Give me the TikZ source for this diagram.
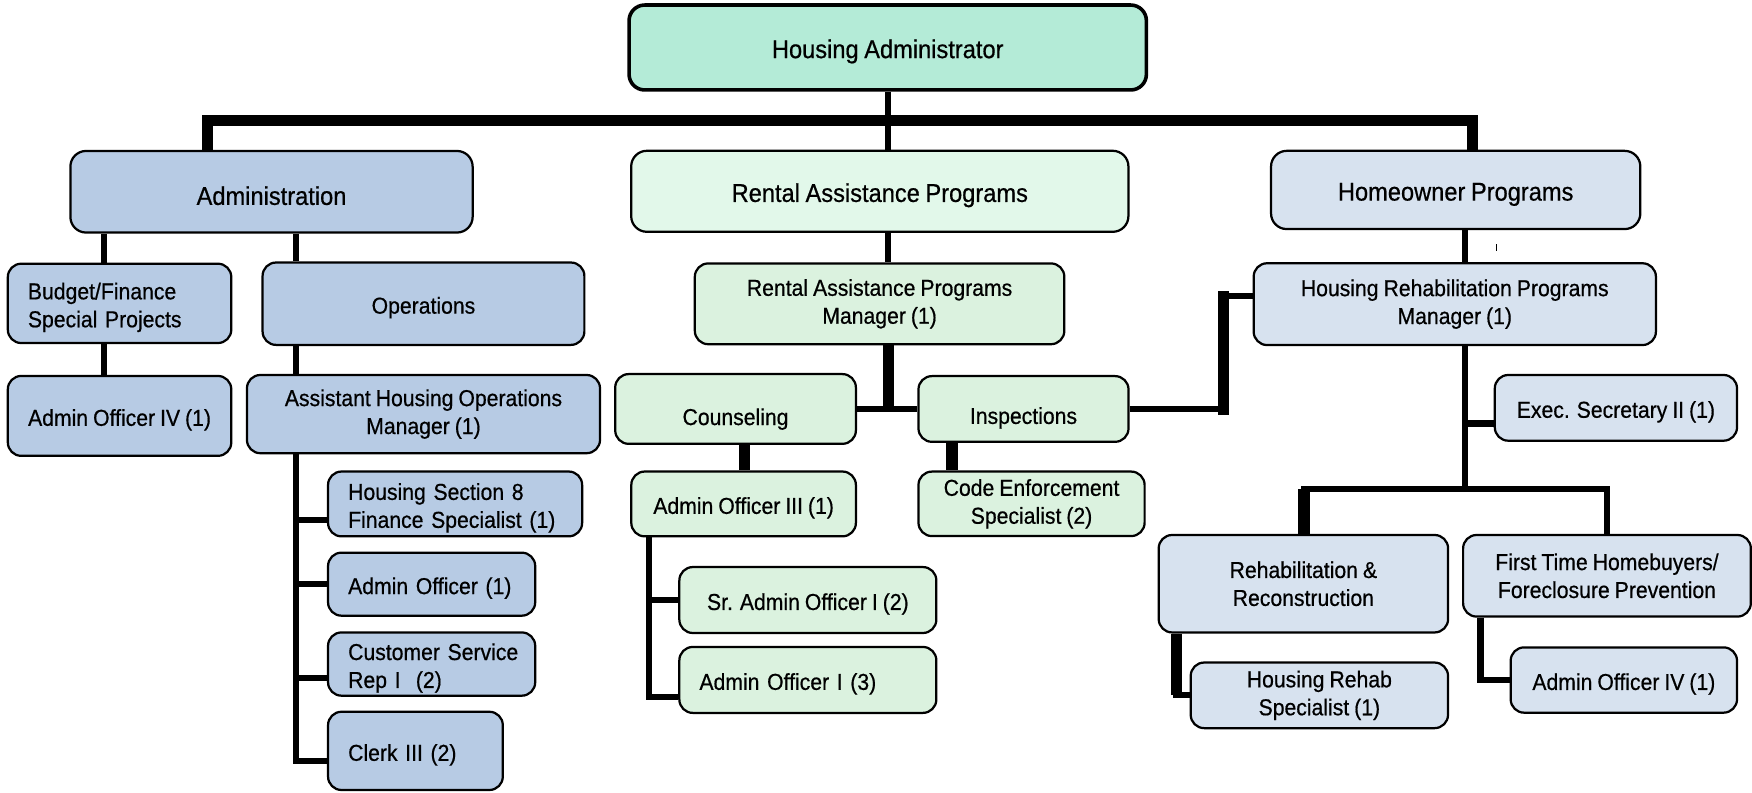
\documentclass[tikz,border=0pt]{standalone}
\usepackage{fontspec}
\setmainfont{Liberation Sans}[FakeStretch=0.92, FakeBold=0.6, WordSpace=0.85]
\usetikzlibrary{backgrounds}
\definecolor{HAmint}{RGB}{180,235,215}
\definecolor{ADMblue}{RGB}{183,203,228}
\definecolor{RAPgreen}{RGB}{226,248,234}
\definecolor{RAPlight}{RGB}{219,242,223}
\definecolor{HOPblue}{RGB}{215,226,239}
\newcommand{\headfont}{\fontsize{11.5}{14}\selectfont}
\newcommand{\unitfont}{\fontsize{10.3}{12.5}\selectfont}
\hyphenpenalty=10000

\begin{document}
\begin{tikzpicture}[x=0.5pt, y=-0.5pt,
	textdrop/.style={execute at begin node={\leavevmode\vrule width0pt height\dimexpr0.73em+#1\relax}},
	box/.style={draw, line width=1pt, rounded corners=6pt, inner sep=0pt, align=center, font=\unitfont, textdrop=3.5pt},
	head/.style={box, rounded corners=7pt, font=\headfont},
	boxsize/.style 2 args={minimum width=#1*0.5pt, minimum height=#2*0.5pt},
	lefttext/.style={align=left, inner xsep=9pt, text width=#1pt},
	conn/.style={line width=2.7pt},
	trunk/.style={line width=5pt}]
	\useasboundingbox (0,0) rectangle (1568,709);
	% top level
	\node[head, fill=HAmint, line width=1.6pt, boxsize={463}{76}] (ha) at (794.5,42.5) {Housing Administrator};
	\node[head, fill=ADMblue, boxsize={360}{73}] (adm) at (243,171.6) {Administration};
	\node[head, fill=RAPgreen, boxsize={445}{72.5}] (rap) at (787.4,171.2) {Rental Assistance Programs};
	\node[head, fill=HOPblue, boxsize={330.5}{70}] (hop) at (1302.8,170) {Homeowner Programs};
	% administration
	\node[box, fill=ADMblue, boxsize={200}{71}, lefttext=82] (bud) at (107,271.5) {Budget/Finance\\Special~Projects};
	\node[box, fill=ADMblue, boxsize={288}{73.7}] (ops) at (379,271.8) {Operations};
	\node[box, fill=ADMblue, boxsize={200}{71.5}] (ao4l) at (107,372.2) {Admin Officer IV (1)};
	\node[box, fill=ADMblue, boxsize={316}{70}] (ahom) at (379,370.6) {Assistant Housing Operations\\Manager (1)};
	\node[box, fill=ADMblue, boxsize={227.4}{58}, lefttext=95.7] (hs8) at (407.3,451) {Housing~Section~8\\Finance~Specialist~(1)};
	\node[box, fill=ADMblue, boxsize={185.4}{56.4}, lefttext=74.7] (aoa) at (386.3,522.8) {Admin~Officer~(1)};
	\node[box, fill=ADMblue, boxsize={185.4}{56.6}, lefttext=74.7] (csr) at (386.3,594.3) {Customer~Service\\Rep~I~~(2)};
	\node[box, fill=ADMblue, boxsize={156.4}{70}, lefttext=60.2] (clk) at (371.8,672) {Clerk~III~(2)};
	% rental assistance
	\node[box, fill=RAPlight, boxsize={330.7}{72.3}] (rapm) at (787.2,271.9) {Rental Assistance Programs\\Manager (1)};
	\node[box, fill=RAPlight, boxsize={215.4}{62.4}, textdrop=9pt] (cns) at (658.3,366) {Counseling};
	\node[box, fill=RAPlight, boxsize={188}{58.8}, textdrop=8pt] (ins) at (916,366) {Inspections};
	\node[box, fill=RAPlight, boxsize={201}{58}] (ao3) at (665.5,451) {Admin Officer III (1)};
	\node[box, fill=RAPlight, boxsize={202.4}{57.7}] (ces) at (923.2,450.9) {Code Enforcement\\Specialist (2)};
	\node[box, fill=RAPlight, boxsize={230}{59}] (srao) at (723,537) {Sr. Admin Officer I (2)};
	\node[box, fill=RAPlight, boxsize={230}{59}, lefttext=97] (aoi) at (723,608.5) {Admin~Officer~I~(3)};
	% homeowner
	\node[box, fill=HOPblue, boxsize={360}{73.2}] (hrpm) at (1302,272.2) {Housing Rehabilitation Programs\\Manager (1)};
	\node[box, fill=HOPblue, boxsize={216.8}{58.8}] (exs) at (1446.2,365) {Exec. Secretary II (1)};
	\node[box, fill=HOPblue, boxsize={259}{87.2}] (reh) at (1166.5,522.4) {Rehabilitation \&\\Reconstruction};
	\node[box, fill=HOPblue, boxsize={257.5}{73}] (fth) at (1438.2,515.3) {First Time Homebuyers/\\Foreclosure Prevention};
	\node[box, fill=HOPblue, boxsize={230.3}{58.7}] (hrs) at (1180.8,622.3) {Housing Rehab\\Specialist (1)};
	\node[box, fill=HOPblue, boxsize={202.6}{58.4}] (ao4r) at (1453.3,608.6) {Admin Officer IV (1)};
	\coordinate (bus) at (794.5,107.5);
	\coordinate (jog) at (1095,265);
	\coordinate (lowbus) at (1311.5,437.5);
	\begin{scope}[on background layer]
		% top bus
		\draw[conn] (ha.south) -- (ha.south |- rap.north);
		\draw[trunk] (adm.north -| 186,0) |- (bus) -| (hop.north -| 1317.5,0);
		% administration lines
		\draw[conn] (adm.south -| 93,0) -- (bud.north -| 93,0);
		\draw[conn] (bud.south -| 93,0) -- (ao4l.north -| 93,0);
		\draw[conn] (adm.south -| 265,0) -- (ops.north -| 265,0);
		\draw[conn] (ops.south -| 265,0) -- (ahom.north -| 265,0);
		\draw[conn] (ahom.south -| 265,0) |- (hs8.west |- 0,465);
		\draw[conn] (ahom.south -| 265,0) |- (aoa.west |- 0,523);
		\draw[conn] (ahom.south -| 265,0) |- (csr.west |- 0,607);
		\draw[conn] (ahom.south -| 265,0) |- (clk.west |- 0,681);
		% rental assistance lines
		\draw[conn] (rap.south -| ha.south) -- (rapm.north -| ha.south);
		\draw[trunk] (rapm.south -| 795.5,0) -- (cns.east -| 795.5,0);
		\draw[conn] (cns.east) -- (ins.west);
		\draw[trunk] (cns.south -| 666,0) -- (ao3.north -| 666,0);
		\draw[trunk] (ins.south -| 852,0) -- (ces.north -| 852,0);
		\draw[conn] (ao3.south -| 581,0) |- (srao.west);
		\draw[conn] (ao3.south -| 581,0) |- (aoi.west |- 0,624);
		\draw[conn] (ins.east) -| (jog) -- (hrpm.west |- jog);
		\draw[trunk, line cap=rect] (jog) -- (jog |- ins.east);
		% homeowner lines
		\draw[conn] (hop.south -| lowbus) -- (hrpm.north -| lowbus);
		\draw[line width=0.6pt] (1339.5,218.5) -- (1339.5,225);
		\draw[conn] (hrpm.south -| lowbus) -- (lowbus);
		\draw[conn] (hrpm.south -| lowbus) |- (exs.west |- 0,379);
		\draw[conn] (reh.north -| 1167,0) |- (lowbus) -| (fth.north -| 1438,0);
		\draw[trunk] (reh.north -| 1167,0) -- (lowbus -| 1167,0);
		\draw[conn] (reh.south -| 1052.6,0) |- (hrs.west);
		\draw[trunk] (reh.south -| 1052.6,0) -- (hrs.west -| 1052.6,0);
		\draw[conn] (fth.south -| 1325,0) |- (ao4r.west);
	\end{scope}
\end{tikzpicture}
\end{document}
